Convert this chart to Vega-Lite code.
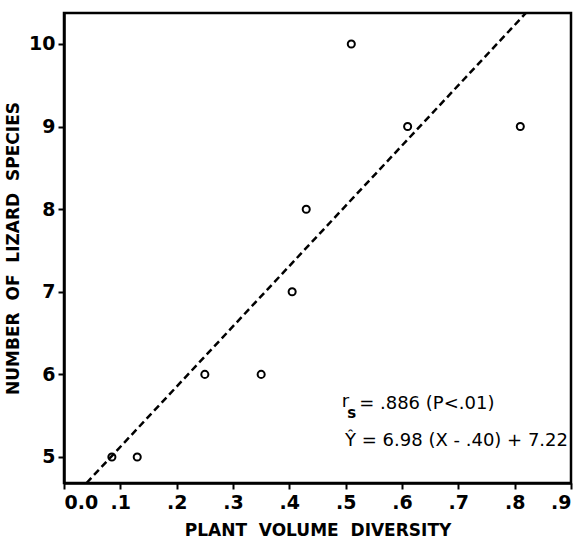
{
  "$schema": "https://vega.github.io/schema/vega-lite/v6.json",
  "autosize": "none",
  "width": 507,
  "height": 470,
  "padding": {"left": 64, "top": 13, "right": 6, "bottom": 58},
  "background": "white",
  "config": {
    "view": {"stroke": "black", "strokeWidth": 2.5},
    "font": "DejaVu Sans",
    "axis": {
      "grid": false,
      "domainColor": "black",
      "domainWidth": 2.5,
      "tickColor": "black",
      "tickWidth": 2,
      "tickSize": 6,
      "labelColor": "black",
      "labelFont": "DejaVu Sans",
      "labelFontSize": 19,
      "labelFontWeight": "bold",
      "titleColor": "black",
      "titleFont": "DejaVu Sans",
      "titleFontSize": 17,
      "titleFontWeight": "bold"
    }
  },
  "datasets": {
    "points": [
      {"diversity": 0.085, "species": 5},
      {"diversity": 0.13, "species": 5},
      {"diversity": 0.25, "species": 6},
      {"diversity": 0.35, "species": 6},
      {"diversity": 0.405, "species": 7},
      {"diversity": 0.43, "species": 8},
      {"diversity": 0.51, "species": 10},
      {"diversity": 0.61, "species": 9},
      {"diversity": 0.81, "species": 9}
    ],
    "fit": [
      {"diversity": 0.04, "species": 4.685},
      {"diversity": 0.82, "species": 10.375}
    ]
  },
  "layer": [
    {
      "data": {"name": "fit"},
      "mark": {"type": "line", "color": "black", "strokeWidth": 2.5, "strokeDash": [7, 4], "clip": true},
      "encoding": {
        "x": {"field": "diversity", "type": "quantitative",
          "scale": {"domain": [0, 0.9], "nice": false, "zero": false},
          "axis": {"values": [0, 0.1, 0.2, 0.3, 0.4, 0.5, 0.6, 0.7, 0.8, 0.9],
            "labelExpr": "datum.value == 0 ? '0.0' : substring(format(datum.value, '.1f'), 1)",
            "labelPadding": 4,
            "title": "PLANT\u00a0\u00a0VOLUME\u00a0\u00a0DIVERSITY", "titlePadding": 10}},
        "y": {"field": "species", "type": "quantitative",
          "scale": {"domain": [4.685, 10.375], "nice": false, "zero": false},
          "axis": {"values": [5, 6, 7, 8, 9, 10], "format": "d", "labelPadding": 3,
            "title": "NUMBER\u00a0\u00a0OF\u00a0\u00a0LIZARD\u00a0\u00a0SPECIES", "titlePadding": 6}}
      }
    },
    {
      "data": {"name": "points"},
      "mark": {"type": "point", "shape": "circle", "filled": false, "color": "black", "strokeWidth": 2, "size": 50, "opacity": 1},
      "encoding": {
        "x": {"field": "diversity", "type": "quantitative"},
        "y": {"field": "species", "type": "quantitative"}
      }
    },
    {
      "data": {"values": [{"t": "r"}]},
      "mark": {"type": "text", "align": "left", "baseline": "middle", "fontSize": 18, "color": "black"},
      "encoding": {"text": {"field": "t"}, "x": {"datum": 0.493}, "y": {"datum": 5.66}}
    },
    {
      "data": {"values": [{"t": "s"}]},
      "mark": {"type": "text", "align": "left", "baseline": "middle", "fontSize": 15, "fontWeight": "bold", "color": "black"},
      "encoding": {"text": {"field": "t"}, "x": {"datum": 0.503}, "y": {"datum": 5.53}}
    },
    {
      "data": {"values": [{"t": "= .886 (P<.01)"}]},
      "mark": {"type": "text", "align": "left", "baseline": "middle", "fontSize": 18, "color": "black"},
      "encoding": {"text": {"field": "t"}, "x": {"datum": 0.524}, "y": {"datum": 5.64}}
    },
    {
      "data": {"values": [{"t": "Ŷ = 6.98 (X - .40) + 7.22"}]},
      "mark": {"type": "text", "align": "left", "baseline": "middle", "fontSize": 18, "color": "black"},
      "encoding": {"text": {"field": "t"}, "x": {"datum": 0.499}, "y": {"datum": 5.19}}
    }
  ]
}
